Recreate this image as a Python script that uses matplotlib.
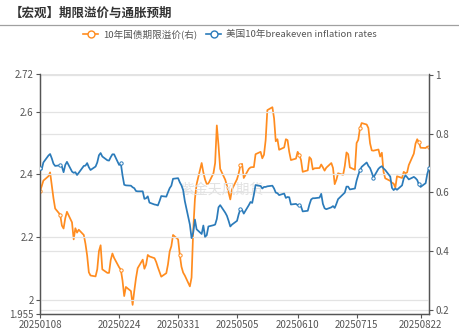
"""
Term premium vs US 10y breakeven inflation, recreated from the reference chart.
"""

import matplotlib

matplotlib.use("Agg")

import matplotlib.dates as mdates
import matplotlib.pyplot as plt
import pandas as pd
from matplotlib.lines import Line2D

plt.rcParams["font.family"] = ["Noto Sans CJK SC", "DejaVu Sans"]

TITLE = "【宏观】期限溢价与通胀预期"
ORANGE_NAME = "10年国债期限溢价(右)"
BLUE_NAME = "美国10年breakeven inflation rates"
WATERMARK = "紫金天风期货"

DATES = pd.bdate_range("2025-01-08", "2025-08-27")
TICK_LABELS = ["20250108", "20250224", "20250331", "20250505",
               "20250610", "20250715", "20250822"]
LEFT_TICKS = [1.955, 2, 2.2, 2.4, 2.6, 2.72]
LEFT_TICK_TEXT = ["1.955", "2", "2.2", "2.4", "2.6", "2.72"]
RIGHT_TICKS = [0.2, 0.4, 0.6, 0.8, 1]
RIGHT_TICK_TEXT = ["0.2", "0.4", "0.6", "0.8", "1"]

# US 10y breakeven inflation (left axis)
breakeven = [
    2.420, 2.415, 2.438, 2.460, 2.465, 2.451, 2.434, 2.427, 2.429, 2.425,
    2.407, 2.430, 2.440, 2.409, 2.405, 2.407, 2.398, 2.405, 2.427, 2.428,
    2.436, 2.423, 2.414, 2.425, 2.438, 2.461, 2.468, 2.457, 2.445, 2.444,
    2.455, 2.464, 2.464, 2.430, 2.435, 2.397, 2.367, 2.365, 2.364, 2.359,
    2.356, 2.347, 2.346, 2.346, 2.322, 2.324, 2.330, 2.310, 2.304, 2.303,
    2.301, 2.315, 2.331, 2.329, 2.343, 2.356, 2.364, 2.386, 2.388, 2.375,
    2.365, 2.350, 2.315, 2.240, 2.197, 2.215, 2.256, 2.225, 2.210, 2.237,
    2.201, 2.206, 2.234, 2.238, 2.240, 2.258, 2.295, 2.302, 2.278, 2.268,
    2.252, 2.234, 2.240, 2.252, 2.273, 2.289, 2.287, 2.275, 2.302, 2.312,
    2.309, 2.335, 2.366, 2.363, 2.355, 2.360, 2.360, 2.362, 2.364, 2.355,
    2.342, 2.340, 2.334, 2.339, 2.325, 2.328, 2.327, 2.304, 2.306, 2.302,
    2.303, 2.298, 2.282, 2.284, 2.304, 2.320, 2.324, 2.324, 2.326, 2.338,
    2.306, 2.292, 2.289, 2.295, 2.299, 2.293, 2.306, 2.321, 2.337, 2.342,
    2.361, 2.361, 2.352, 2.355, 2.380, 2.398, 2.413, 2.424, 2.438, 2.427,
    2.420, 2.406, 2.390, 2.418, 2.423, 2.426, 2.419, 2.414, 2.393, 2.357,
    2.350, 2.355, 2.351, 2.365, 2.387, 2.397, 2.391, 2.384, 2.392, 2.388,
    2.382, 2.368, 2.360, 2.372, 2.402, 2.420,
]

# China 10y term premium (right axis)
term_premium = [
    0.605, 0.621, 0.640, 0.655, 0.668, 0.624, 0.580, 0.545, 0.524, 0.487,
    0.477, 0.512, 0.534, 0.498, 0.440, 0.478, 0.463, 0.473, 0.455, 0.425,
    0.385, 0.328, 0.317, 0.314, 0.338, 0.400, 0.420, 0.338, 0.326, 0.326,
    0.370, 0.392, 0.377, 0.345, 0.337, 0.300, 0.247, 0.278, 0.264, 0.217,
    0.265, 0.308, 0.342, 0.371, 0.340, 0.354, 0.387, 0.382, 0.376, 0.363,
    0.345, 0.329, 0.313, 0.325, 0.355, 0.399, 0.417, 0.455, 0.440, 0.388,
    0.347, 0.327, 0.317, 0.280, 0.310, 0.472, 0.578, 0.628, 0.700, 0.668,
    0.644, 0.629, 0.630, 0.665, 0.700, 0.828, 0.760, 0.680, 0.643, 0.623,
    0.599, 0.576, 0.610, 0.645, 0.665, 0.692, 0.697, 0.649, 0.680, 0.685,
    0.686, 0.686, 0.730, 0.738, 0.716, 0.728, 0.778, 0.880, 0.890, 0.852,
    0.774, 0.781, 0.745, 0.753, 0.781, 0.778, 0.738, 0.710, 0.715, 0.738,
    0.728, 0.710, 0.670, 0.675, 0.720, 0.713, 0.678, 0.682, 0.683, 0.695,
    0.685, 0.674, 0.684, 0.700, 0.683, 0.628, 0.643, 0.665, 0.660, 0.690,
    0.736, 0.730, 0.685, 0.677, 0.768, 0.779, 0.818, 0.836, 0.831, 0.819,
    0.767, 0.743, 0.742, 0.746, 0.722, 0.735, 0.670, 0.648, 0.639, 0.633,
    0.630, 0.616, 0.655, 0.649, 0.670, 0.665, 0.668, 0.693, 0.732, 0.766,
    0.781, 0.770, 0.752, 0.751, 0.756, 0.755,
]

BLUE_MARKS = [0, 8, 34, 85, 110, 136, 142, 161, 165]
ORANGE_MARKS = [0, 8, 34, 59, 85, 110, 136, 161, 165]

BLUE = "#2b7bba"
ORANGE = "#ff8c1f"
GRID = "#e3e3e3"
AXIS = "#555555"
TEXT = "#555555"


def main():
    fig = plt.figure(figsize=(4.6, 3.29), dpi=100)
    ax = fig.add_axes([40 / 460, 1 - 314 / 329, 389 / 460, 240 / 329])
    ax2 = ax.twinx()

    # title + separator
    fig.text(10 / 460, 1 - 13 / 329, TITLE, fontsize=9, fontweight="bold",
             color="#333333", va="center", ha="left")
    fig.add_artist(Line2D([0, 1], [1 - 25 / 329, 1 - 25 / 329],
                          color="#a0a0a0", lw=0.9, transform=fig.transFigure))

    fig.text(222 / 460, 1 - 190 / 329, WATERMARK, fontsize=10, color="#e2e2e2",
             ha="center", va="center", zorder=0)

    ax.set_ylim(1.955, 2.72)
    ax2.set_ylim(0.186, 1.003)
    ax.set_xlim(DATES[0], DATES[-1])

    for y in LEFT_TICKS:
        ax.axhline(y, color=GRID, lw=0.9, zorder=0)
    for y in RIGHT_TICKS:
        ax2.axhline(y, color=GRID, lw=0.9, zorder=0)

    ax.plot(DATES, breakeven, color=BLUE, lw=1.25, marker="o", markersize=2.4,
            markerfacecolor="white", markeredgewidth=0.7, markevery=BLUE_MARKS,
            zorder=3)
    ax2.plot(DATES, term_premium, color=ORANGE, lw=1.25, marker="o",
             markersize=2.4, markerfacecolor="white", markeredgewidth=0.7,
             markevery=ORANGE_MARKS, zorder=3)
    ax.set_zorder(ax2.get_zorder() + 1)
    ax.patch.set_visible(False)

    ax.set_yticks(LEFT_TICKS)
    ax.set_yticklabels(LEFT_TICK_TEXT)
    ax2.set_yticks(RIGHT_TICKS)
    ax2.set_yticklabels(RIGHT_TICK_TEXT)

    ax.set_xticks(pd.to_datetime(TICK_LABELS, format="%Y%m%d"))
    ax.xaxis.set_major_formatter(mdates.DateFormatter("%Y%m%d"))

    for a in (ax, ax2):
        a.tick_params(labelsize=7, colors=TEXT, length=3, width=0.8, pad=1.5)
        a.spines["top"].set_visible(False)
        for side in ("left", "right", "bottom"):
            a.spines[side].set_color(AXIS)
            a.spines[side].set_linewidth(0.9)

    handles = [
        Line2D([], [], color=ORANGE, lw=1.2, marker="o", markersize=5,
               markerfacecolor="white", markeredgewidth=1),
        Line2D([], [], color=BLUE, lw=1.2, marker="o", markersize=5,
               markerfacecolor="white", markeredgewidth=1),
    ]
    fig.legend(handles, [ORANGE_NAME, BLUE_NAME], loc="center",
               bbox_to_anchor=(0.5, 1 - 34 / 329), ncol=2, frameon=False,
               fontsize=6.9, labelcolor=TEXT, handlelength=1.6,
               handletextpad=0.5, columnspacing=0.9)

    fig.savefig("out.png", dpi=100)
    plt.close(fig)


if __name__ == "__main__":
    main()
